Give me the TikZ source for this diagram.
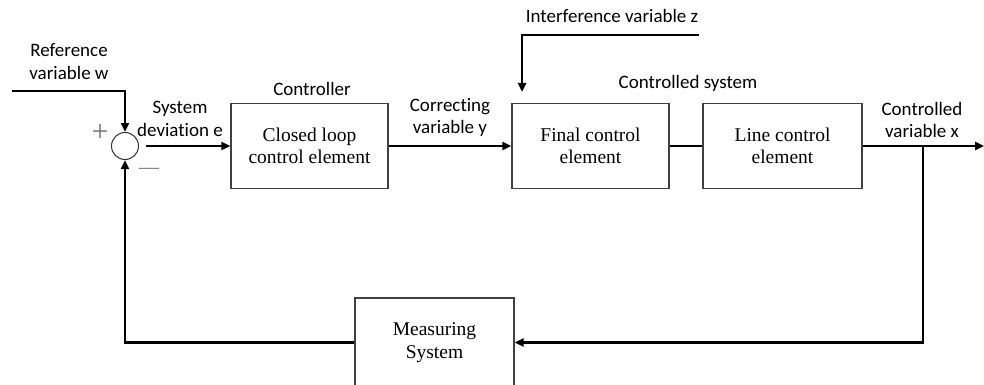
\documentclass[tikz,border=0pt]{standalone}
\usepackage{fontspec}
\setmainfont{Liberation Serif}
\newfontfamily\labfont[Ligatures=NoCommon]{Carlito}
\usetikzlibrary{arrows.meta}
\begin{document}
\begin{tikzpicture}[x=1pt,y=-1pt,
  block/.style={draw=black!75, line width=1.1pt, minimum width=157pt, minimum height=85pt,
    align=center, inner sep=0pt, font=\fontsize{19.5}{22.5}\selectfont},
  lab/.style={font=\labfont\fontsize{19}{22.5}\selectfont, align=center, inner sep=0pt},
  sig/.style={line width=2.6pt},
  sigarrow/.style={sig, -{Triangle[length=9pt,width=8pt]}},
  sign/.style={text=black!55, inner sep=0pt},
]
\useasboundingbox (0,0) rectangle (984,385);

% summing junction and its signs
\node[draw=black!80, line width=1pt, circle, minimum size=27pt, inner sep=0pt] (sum) at (125,146) {};
\node[sign, font=\fontsize{30}{30}\selectfont] (plus) at (100,133) {+};
\node[sign, font=\fontsize{20}{20}\selectfont] (minus) at (149,171) {—};

% blocks
\node[block] (ctrl) at (309.5,146) {Closed loop\\control element};
\node[block] (fce) at (590.5,146) {Final control\\element};
\node[block, minimum width=159pt] (lce) at (782.5,146) {Line control\\element};
\node[block, minimum width=159pt, minimum height=89pt] (meas) at (434.5,342.5) {Measuring\\System};

% free ends of the signal lines
\coordinate (wstart) at (12,91);
\coordinate (zstart) at (699,35);
\coordinate (zend) at (522,92);
\coordinate (xend) at (984,146);
\coordinate (branch) at (923,146);

% signal lines
\draw[sigarrow] (wstart) -| (sum.north);
\draw[sigarrow, shorten <=7pt] (sum.east) -- (ctrl.west);
\draw[sigarrow] (ctrl.east) -- (fce.west);
\draw[sig] (fce.east) -- (lce.west);
\draw[sigarrow] (lce.east) -- (xend);
\draw[sigarrow] (zstart) -| (zend);
\draw[sigarrow] (branch) |- (meas.east);
\draw[sigarrow] (meas.west) -| (sum.south);

% labels
\node[lab] (lw) at (69,61.5) {Reference\\variable w};
\node[lab] (le) at (180,119) {System\\deviation e};
\node[lab] (lctrl) at (312,89) {Controller};
\node[lab] (ly) at (450,117.5) {Correcting\\variable y};
\node[lab] (lz) at (612,16) {Interference variable z};
\node[lab] (lsys) at (688,83) {Controlled system};
\node[lab] (lx) at (922,120) {Controlled\\variable x};
\end{tikzpicture}
\end{document}
